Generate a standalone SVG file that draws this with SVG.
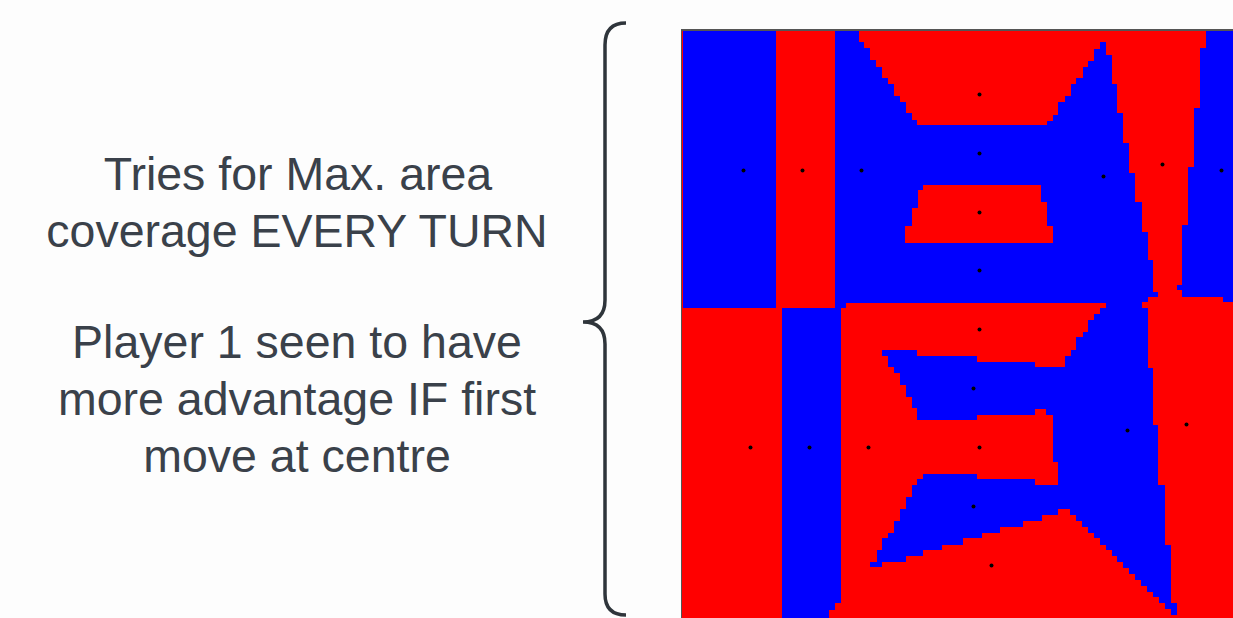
<svg xmlns="http://www.w3.org/2000/svg" width="1233" height="618" viewBox="0 0 1233 618">
<style>
.t{font-family:"Liberation Sans",Arial,sans-serif;font-size:46.5px;fill:#3a414a;text-anchor:middle}
.b{fill:#0000ff}
.r{fill:#ff0000}
.d{fill:#000}
</style>
<rect x="0" y="0" width="1233" height="618" fill="#fdfdfd"/>
<g id="text">
<text class="t" x="298" y="190">Tries for Max. area</text>
<text class="t" x="297" y="247">coverage EVERY TURN</text>
<text class="t" x="297" y="358">Player 1 seen to have</text>
<text class="t" x="297" y="415">more advantage IF first</text>
<text class="t" x="297" y="472">move at centre</text>
</g>
<g id="brace">
<path d="M626,23 Q605,23 605,45 L605,300 Q605,322 583,322 Q605,322 605,344 L605,594 Q605,615 626,615" fill="none" stroke="#2f353b" stroke-width="3.5"/>
</g>
<g id="map" shape-rendering="crispEdges">
<rect x="681" y="30" width="552" height="588" class="r"/>
<rect x="683" y="31" width="93" height="277" class="b"/>
<polygon class="b" points="782,308 841,308 841,603 835,603 835,610 829,610 829,618 782,618"/>
<polygon class="b" points="835,31 859,31 859,42 864,42 864,48 870,48 870,60 876,60 876,67 882,67 882,78 888,78 888,84 894,84 894,96 900,96 900,102 906,102 906,113 912,113 912,120 917,120 917,125 1047,125 1047,121 1053,121 1053,115 1058,115 1058,102 1065,102 1065,96 1071,96 1071,84 1076,84 1076,78 1083,78 1083,67 1088,67 1088,61 1094,61 1094,49 1100,49 1100,42 1106,42 1106,55 1112,55 1112,84 1117,84 1117,113 1123,113 1123,143 1129,143 1129,173 1135,173 1135,202 1142,202 1142,232 1148,232 1148,260 1153,260 1153,292 1158,292 1158,297 1148,297 1148,302 1142,302 1142,303 846,303 846,308 835,308"/>
<polygon class="r" points="923,185 1041,185 1041,202 1047,202 1047,226 1053,226 1053,243 905,243 905,226 912,226 912,208 918,208 918,190 923,190"/>
<polygon class="b" points="1206,31 1233,31 1233,302 1223,302 1223,297 1182,297 1182,290 1177,290 1177,285 1182,285 1182,225 1188,225 1188,167 1194,167 1194,108 1200,108 1200,48 1206,48"/>
<polygon class="b" points="1106,300 1142,300 1142,308 1148,308 1148,368 1153,368 1153,425 1158,425 1158,485 1165,485 1165,545 1171,545 1171,603 1177,603 1177,615 1171,615 1171,609 1165,609 1165,603 1159,603 1159,597 1153,597 1153,592 1147,592 1147,586 1141,586 1141,580 1135,580 1135,574 1129,574 1129,568 1123,568 1123,562 1117,562 1117,556 1112,556 1112,550 1106,550 1106,545 1100,545 1100,538 1094,538 1094,533 1088,533 1088,527 1082,527 1082,521 1076,521 1076,515 1070,515 1070,509 1058,509 1058,515 1042,515 1042,521 1023,521 1023,527 1000,527 1000,533 982,533 982,538 963,538 963,545 942,545 942,550 923,550 923,556 906,556 906,562 882,562 882,567 870,567 870,562 877,562 877,550 882,550 882,538 888,538 888,533 894,533 894,521 900,521 900,509 906,509 906,497 912,497 912,485 917,485 917,479 923,479 923,474 977,474 977,479 1035,479 1035,485 1058,485 1058,462 1053,462 1053,415 1046,415 1046,409 1035,409 1035,415 977,415 977,420 917,420 917,408 912,408 912,397 906,397 906,385 900,385 900,373 894,373 894,367 888,367 888,356 882,356 882,350 917,350 917,356 977,356 977,362 1035,362 1035,367 1065,367 1065,356 1071,356 1071,350 1076,350 1076,337 1083,337 1083,332 1088,332 1088,320 1094,320 1094,314 1100,314 1100,308 1106,308"/>
<path d="M681,30 H1233 M681.5,30 V618" stroke="#555" stroke-width="1.5" fill="none"/>
</g>
<g id="points" class="d">
<circle cx="743.5" cy="170.5" r="2"/>
<circle cx="802.5" cy="170.5" r="2"/>
<circle cx="861.5" cy="170.5" r="2"/>
<circle cx="979.5" cy="94.5" r="2"/>
<circle cx="979.5" cy="153.5" r="2"/>
<circle cx="979.5" cy="212.5" r="2"/>
<circle cx="979.5" cy="270.5" r="2"/>
<circle cx="1103.5" cy="176.5" r="2"/>
<circle cx="1162.5" cy="164.5" r="2"/>
<circle cx="1221.5" cy="170.5" r="2"/>
<circle cx="979.5" cy="329.5" r="2"/>
<circle cx="973.5" cy="388.5" r="2"/>
<circle cx="979.5" cy="447.5" r="2"/>
<circle cx="973.5" cy="506.5" r="2"/>
<circle cx="991.5" cy="565.5" r="2"/>
<circle cx="750.5" cy="447.5" r="2"/>
<circle cx="809.5" cy="447.5" r="2"/>
<circle cx="868.5" cy="447.5" r="2"/>
<circle cx="1127.5" cy="430.5" r="2"/>
<circle cx="1186.5" cy="424.5" r="2"/>
</g>
</svg>
